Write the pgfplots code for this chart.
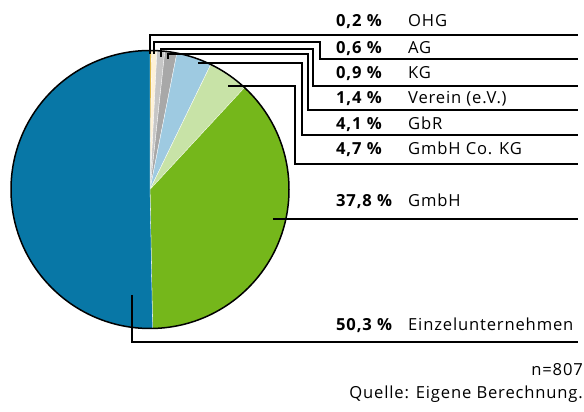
\documentclass[border=0pt]{standalone}
\usepackage{pgfplots}
\pgfplotsset{compat=1.18}
\usepackage{pgfplotstable}
\usepackage{fontspec}
\setmainfont{Open Sans}[LetterSpace=5]
\definecolor{cOHG}{HTML}{F9B000}
\definecolor{cAG}{HTML}{FDF1D8}
\definecolor{cKG}{HTML}{C6C6C6}
\definecolor{cVerein}{HTML}{A8A8A8}
\definecolor{cGbR}{HTML}{9ECAE1}
\definecolor{cGmbHCo}{HTML}{C8E3A7}
\definecolor{cGmbH}{HTML}{75B71B}
\definecolor{cEinzel}{HTML}{0877A6}
\pgfplotstableread{
val col
0.2 cOHG
0.6 cAG
0.9 cKG
1.4 cVerein
4.1 cGbR
4.7 cGmbHCo
37.8 cGmbH
50.3 cEinzel
}\pietable
\begin{document}
\begin{tikzpicture}
\begin{axis}[
  width=584pt, height=412pt, scale only axis,
  xmin=0, xmax=584, ymin=0, ymax=412,
  hide axis, clip=false,
]
\path (axis cs:0,0) rectangle (axis cs:584,412);
\pgfplotstablegetrowsof{\pietable}
\pgfmathtruncatemacro\N{\pgfplotsretval-1}
\def\cum{0}
\pgfplotsforeachungrouped \i in {0,...,\N}{
  \pgfplotstablegetelem{\i}{val}\of\pietable \let\v\pgfplotsretval
  \pgfplotstablegetelem{\i}{col}\of\pietable \let\c\pgfplotsretval
  \pgfmathsetmacro\a{90-3.6*\cum}
  \pgfmathsetmacro\b{90-3.6*(\cum+\v)}
  \edef\tmp{\noexpand\fill[\c, draw=white, line width=0.3pt] (axis cs:150,222.5) -- ++(\a:139pt) arc[start angle=\a, end angle=\b, radius=139pt] -- cycle;}
  \tmp
  \pgfmathsetmacro\cum{\cum+\v}
  \global\let\cum\cum
}
\draw[line width=1.5pt] (axis cs:150,222.5) circle[radius=139pt];
% leader lines (px coords, y flipped)
\begin{scope}[line width=2.2pt, line join=miter]
\draw (axis cs:150,{412-54}) -- (axis cs:150,{412-35}) -- (axis cs:578,{412-35});
\draw (axis cs:154,{412-54}) -- (axis cs:154,{412-42}) -- (axis cs:320,{412-42}) -- (axis cs:320,{412-59}) -- (axis cs:578,{412-59});
\draw (axis cs:161,{412-57}) -- (axis cs:161,{412-49}) -- (axis cs:313,{412-49}) -- (axis cs:313,{412-86}) -- (axis cs:578,{412-86});
\draw (axis cs:168,{412-59}) -- (axis cs:168,{412-54}) -- (axis cs:308,{412-54}) -- (axis cs:308,{412-110}) -- (axis cs:578,{412-110});
\draw (axis cs:198,{412-63}) -- (axis cs:302,{412-63}) -- (axis cs:302,{412-135}) -- (axis cs:578,{412-135});
\draw (axis cs:228,{412-86}) -- (axis cs:295,{412-86}) -- (axis cs:295,{412-164}) -- (axis cs:578,{412-164});
\draw (axis cs:273,{412-219}) -- (axis cs:578,{412-219});
\draw (axis cs:132,{412-295}) -- (axis cs:132,{412-342}) -- (axis cs:578,{412-342});
\end{scope}
\begin{scope}[every node/.style={font=\fontsize{16.6}{19}\selectfont, inner sep=0pt}]
\node[anchor=base west] at (axis cs:336,{412-27}) {\textbf{0,2 \%}};
\node[anchor=base west] at (axis cs:408,{412-27}) {OHG};
\node[anchor=base west] at (axis cs:336,{412-54}) {\textbf{0,6 \%}};
\node[anchor=base west] at (axis cs:408,{412-54}) {AG};
\node[anchor=base west] at (axis cs:336,{412-79}) {\textbf{0,9 \%}};
\node[anchor=base west] at (axis cs:408,{412-79}) {KG};
\node[anchor=base west] at (axis cs:336,{412-104}) {\textbf{1,4 \%}};
\node[anchor=base west] at (axis cs:408,{412-104}) {Verein (e.V.)};
\node[anchor=base west] at (axis cs:336,{412-130}) {\textbf{4,1 \%}};
\node[anchor=base west] at (axis cs:408,{412-130}) {GbR};
\node[anchor=base west] at (axis cs:336,{412-155}) {\textbf{4,7 \%}};
\node[anchor=base west] at (axis cs:408,{412-155}) {GmbH Co. KG};
\node[anchor=base west] at (axis cs:336,{412-207}) {\textbf{37,8 \%}};
\node[anchor=base west] at (axis cs:408,{412-207}) {GmbH};
\node[anchor=base west] at (axis cs:336,{412-331}) {\textbf{50,3 \%}};
\node[anchor=base west] at (axis cs:408,{412-331}) {Einzelunternehmen};
\node[anchor=base east] at (axis cs:583,{412-376}) {n=807};
\node[anchor=base east] at (axis cs:583,{412-399}) {Quelle: Eigene Berechnung.};
\end{scope}
\end{axis}
\end{tikzpicture}
\end{document}
